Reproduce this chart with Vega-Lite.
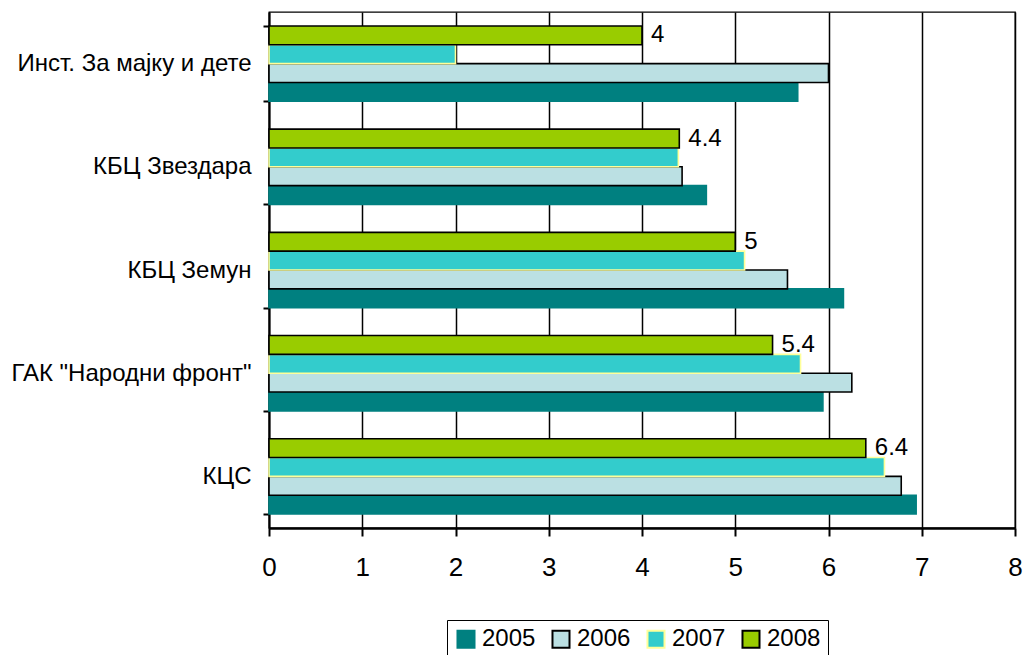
{
  "$schema": "https://vega.github.io/schema/vega-lite/v6.json",
  "autosize": {"type": "none"},
  "padding": {"left": 269, "top": 12, "right": 9, "bottom": 127},
  "width": 746,
  "height": 516,
  "config": {
    "font": "Liberation Sans",
    "view": {"stroke": "black", "strokeWidth": 1.3},
    "axis": {"labelFont": "Liberation Sans", "labelColor": "black", "domainColor": "black", "tickColor": "black"}
  },
  "data": {
    "values": [
      {"cat": "Инст. За мајку и дете", "year": "2005", "value": 5.67},
      {"cat": "Инст. За мајку и дете", "year": "2006", "value": 6.0},
      {"cat": "Инст. За мајку и дете", "year": "2007", "value": 2.0},
      {"cat": "Инст. За мајку и дете", "year": "2008", "value": 4.0},
      {"cat": "КБЦ Звездара", "year": "2005", "value": 4.69},
      {"cat": "КБЦ Звездара", "year": "2006", "value": 4.43},
      {"cat": "КБЦ Звездара", "year": "2007", "value": 4.39},
      {"cat": "КБЦ Звездара", "year": "2008", "value": 4.4},
      {"cat": "КБЦ Земун", "year": "2005", "value": 6.16},
      {"cat": "КБЦ Земун", "year": "2006", "value": 5.56},
      {"cat": "КБЦ Земун", "year": "2007", "value": 5.1},
      {"cat": "КБЦ Земун", "year": "2008", "value": 5.0},
      {"cat": "ГАК \"Народни фронт\"", "year": "2005", "value": 5.94},
      {"cat": "ГАК \"Народни фронт\"", "year": "2006", "value": 6.25},
      {"cat": "ГАК \"Народни фронт\"", "year": "2007", "value": 5.7},
      {"cat": "ГАК \"Народни фронт\"", "year": "2008", "value": 5.4},
      {"cat": "КЦС", "year": "2005", "value": 6.94},
      {"cat": "КЦС", "year": "2006", "value": 6.78},
      {"cat": "КЦС", "year": "2007", "value": 6.6},
      {"cat": "КЦС", "year": "2008", "value": 6.4}
    ]
  },
  "encoding": {
    "y": {
      "field": "cat",
      "type": "nominal",
      "sort": null,
      "scale": {"paddingInner": 0.27, "paddingOuter": 0.135},
      "axis": {
        "title": null,
        "tickBand": "extent",
        "tickSize": 6,
        "tickWidth": 2,
        "domainWidth": 2,
        "labelFontSize": 24,
        "labelPadding": 12,
        "labelLimit": 300
      }
    },
    "x": {
      "field": "value",
      "type": "quantitative",
      "scale": {"domain": [0, 8], "nice": false},
      "axis": {
        "title": null,
        "values": [0, 1, 2, 3, 4, 5, 6, 7, 8],
        "grid": true,
        "gridColor": "black",
        "gridWidth": 1.5,
        "gridOpacity": 1,
        "tickSize": 8,
        "tickWidth": 2,
        "domainWidth": 2.5,
        "labelFontSize": 26,
        "labelPadding": 18,
        "labelFlush": false,
        "labelOverlap": false
      }
    },
    "yOffset": {
      "field": "year",
      "type": "nominal",
      "sort": ["2008", "2007", "2006", "2005"],
      "scale": {"paddingInner": 0, "paddingOuter": 0}
    }
  },
  "layer": [
    {
      "mark": {"type": "bar", "strokeWidth": 1.6, "strokeOpacity": 1, "fillOpacity": 1},
      "encoding": {
        "fill": {
          "field": "year",
          "type": "nominal",
          "sort": ["2005", "2006", "2007", "2008"],
          "scale": {"domain": ["2005", "2006", "2007", "2008"], "range": ["#008080", "#BBE0E3", "#33CCCC", "#99CC00"]},
          "legend": {
            "title": null,
            "orient": "none",
            "direction": "horizontal",
            "legendX": 178,
            "legendY": 608,
            "strokeColor": "black",
            "padding": 7,
            "symbolType": "square",
            "symbolSize": 290,
            "symbolStrokeWidth": 2,
            "labelFontSize": 24,
            "labelColor": "black",
            "labelOffset": 4,
            "columnPadding": 12
          }
        },
        "stroke": {
          "field": "year",
          "type": "nominal",
          "sort": ["2005", "2006", "2007", "2008"],
          "scale": {"domain": ["2005", "2006", "2007", "2008"], "range": ["#008080", "#000000", "#FFFF99", "#000000"]},
          "legend": {
            "title": null,
            "orient": "none",
            "direction": "horizontal",
            "legendX": 178,
            "legendY": 608,
            "strokeColor": "black",
            "padding": 7,
            "symbolType": "square",
            "symbolSize": 290,
            "symbolStrokeWidth": 2,
            "labelFontSize": 24,
            "labelColor": "black",
            "labelOffset": 4,
            "columnPadding": 12
          }
        }
      }
    },
    {
      "transform": [{"filter": "datum.year === '2008'"}],
      "mark": {"type": "text", "align": "left", "baseline": "middle", "dx": 9, "fontSize": 24, "color": "black"},
      "encoding": {
        "text": {"field": "value", "type": "quantitative"}
      }
    }
  ]
}
